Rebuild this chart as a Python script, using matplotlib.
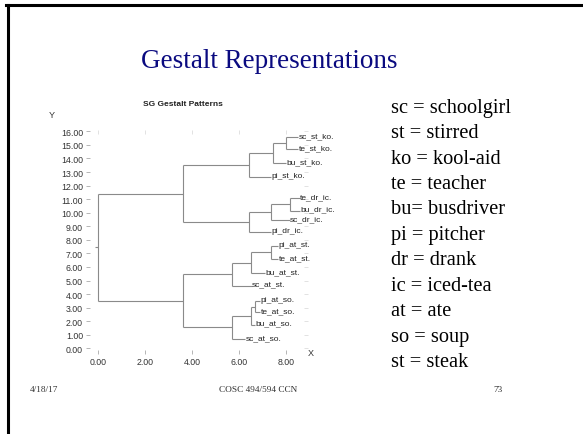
#!/usr/bin/env python3

import matplotlib
matplotlib.use("Agg")
import matplotlib.pyplot as plt
from matplotlib.lines import Line2D

# leaves of the dendrogram, top to bottom
leaf_names = ["sc_st_ko.", "te_st_ko.", "bu_st_ko.", "pi_st_ko.",
              "te_dr_ic.", "bu_dr_ic.", "sc_dr_ic.", "pi_dr_ic.",
              "pi_at_st.", "te_at_st.", "bu_at_st.", "sc_at_st.",
              "pi_at_so.", "te_at_so.", "bu_at_so.", "sc_at_so."]
leaf_y = [15.56, 14.70, 13.66, 12.60,
          11.08, 10.15, 9.46, 8.55,
          7.57, 6.59, 5.55, 4.62,
          3.51, 2.65, 1.74, 0.69]
leaf_end = [8.53, 8.53, 8.00, 7.39,
            8.60, 8.60, 8.17, 7.39,
            7.68, 7.68, 7.11, 6.54,
            6.90, 6.90, 6.68, 6.28]

# cluster name -> (merge x, children)
clusters = {
    "k1": (8.00, ["sc_st_ko.", "te_st_ko."]),
    "k2": (7.44, ["k1", "bu_st_ko."]),
    "k3": (6.44, ["k2", "pi_st_ko."]),
    "i1": (8.17, ["te_dr_ic.", "bu_dr_ic."]),
    "i2": (7.36, ["i1", "sc_dr_ic."]),
    "i3": (6.44, ["i2", "pi_dr_ic."]),
    "t1": (7.36, ["pi_at_st.", "te_at_st."]),
    "t2": (6.50, ["t1", "bu_at_st."]),
    "t3": (5.72, ["t2", "sc_at_st."]),
    "o1": (6.68, ["pi_at_so.", "te_at_so."]),
    "o2": (6.50, ["o1", "bu_at_so."]),
    "o3": (5.72, ["o2", "sc_at_so."]),
    "top": (3.63, ["k3", "i3"]),
    "bot": (3.63, ["t3", "o3"]),
    "root": (0.00, ["top", "bot"]),
}

x_ticks = [0, 2, 4, 6, 8]
y_ticks = list(range(0, 17))

legend_lines = ["sc = schoolgirl", "st = stirred", "ko = kool-aid",
                "te = teacher", "bu= busdriver", "pi = pitcher",
                "dr = drank", "ic = iced-tea", "at = ate",
                "so = soup", "st = steak"]

W, H = 583, 435
fig = plt.figure(figsize=(W / 100, H / 100), dpi=100)

# slide frame (left + top edge)
fig.add_artist(Line2D([7.5 / W, 7.5 / W], [0, 1 - 5.5 / H], color="black",
                      lw=2.2, transform=fig.transFigure))
fig.add_artist(Line2D([6 / W, 1], [1 - 5.5 / H, 1 - 5.5 / H], color="black",
                      lw=2.2, transform=fig.transFigure))

serif = "Liberation Serif"
fig.text(269 / W, 1 - 62 / H, "Gestalt Representations", family=serif,
         fontsize=19.5, color="#0a0a80", ha="center", va="center")

for i, line in enumerate(legend_lines):
    fig.text(391 / W, 1 - (108 + i * 25.5) / H, line, family=serif,
             fontsize=14.7, color="black", ha="left", va="center")

fig.text(30 / W, 1 - 390 / H, "4/18/17", family=serif, fontsize=6.7,
         color="#333333", ha="left", va="center")
fig.text(258.5 / W, 1 - 390 / H, "COSC 494/594 CCN", family=serif,
         fontsize=6.7, color="#333333", ha="center", va="center")
fig.text(498.5 / W, 1 - 390 / H, "73", family=serif, fontsize=6.7,
         color="#333333", ha="center", va="center")

# dendrogram axes
sans = "Liberation Sans"
ax = fig.add_axes([90 / W, (H - 350.7) / H, 218 / W, 219.7 / H])
ax.set_xlim(-0.35, 8.95)
ax.set_ylim(-0.1, 16.1)
for s in ax.spines.values():
    s.set_visible(False)

line_kw = dict(color="#8a8a8a", lw=0.8, solid_capstyle="butt")


def draw(name):
    h, kids = clusters[name]
    ys = []
    for k in kids:
        if k in clusters:
            y = draw(k)
            x_end = clusters[k][0]
        else:
            i = leaf_names.index(k)
            y, x_end = leaf_y[i], leaf_end[i]
            ax.text(x_end + 0.02, y, k, family=sans, fontsize=6,
                    color="#222222", ha="left", va="baseline")
        ax.plot([h, x_end], [y, y], **line_kw)
        ys.append(y)
    ax.plot([h, h], ys, **line_kw)
    return sum(ys) / 2


root_y = draw("root")
ax.plot([-0.12, 0], [root_y, root_y], **line_kw)

ax.set_xticks(x_ticks)
ax.set_xticklabels(["{:.2f}".format(v) for v in x_ticks])
ax.set_yticks(y_ticks)
ax.set_yticklabels(["{:.2f}".format(v) for v in y_ticks])
ax.tick_params(direction="out", length=3, width=0.6, color="#aaaaaa",
               labelsize=6.3, labelcolor="#333333", pad=2)
for lab in ax.get_xticklabels() + ax.get_yticklabels():
    lab.set_family(sans)

# faint mirrored ticks on the top and right
sec_x = ax.secondary_xaxis("top")
sec_x.set_xticks(x_ticks)
sec_x.tick_params(direction="in", length=3, width=0.6, color="#dddddd",
                  labeltop=False)
sec_y = ax.secondary_yaxis("right")
sec_y.set_yticks(y_ticks)
sec_y.tick_params(direction="in", length=3, width=0.6, color="#dddddd",
                  labelright=False)
for a in (sec_x, sec_y):
    for s in a.spines.values():
        s.set_visible(False)

fig.text(182.5 / W, 1 - 105 / H, "SG Gestalt Patterns", family=sans,
         fontsize=6, fontweight="bold", color="#222222",
         ha="center", va="center")
fig.text(51.7 / W, 1 - 115 / H, "Y", family=sans, fontsize=6.5,
         color="#333333", ha="center", va="center")
fig.text(311 / W, 1 - 353 / H, "X", family=sans, fontsize=6.5,
         color="#333333", ha="center", va="center")

fig.savefig("out.png", dpi=100)
